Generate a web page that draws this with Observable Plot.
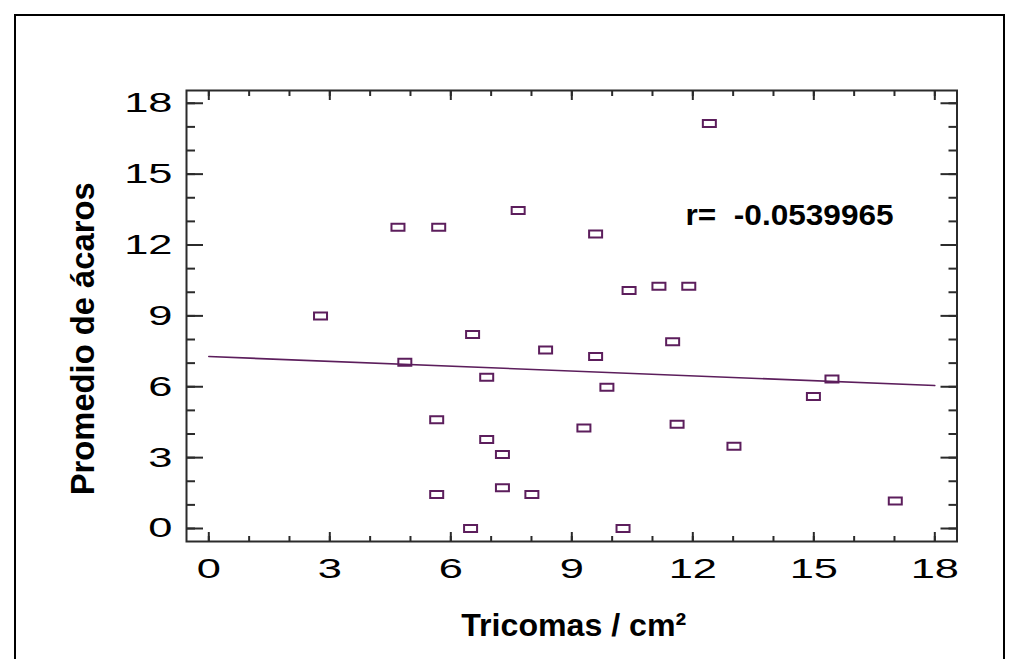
<!DOCTYPE html>
<html><head><meta charset="utf-8">
<script src="https://cdn.jsdelivr.net/npm/d3@7"></script>
<script src="https://cdn.jsdelivr.net/npm/@observablehq/plot@0.6"></script>
<style>
html,body{margin:0;padding:0;background:#fff;}
#wrap{position:relative;width:1019px;height:659px;overflow:hidden;background:#fff;}
#chart{position:absolute;left:0;top:0;}
#border{position:absolute;left:14px;top:14px;width:991px;height:720px;border:2px solid #000;box-sizing:border-box;pointer-events:none;}
</style></head><body>
<div id="wrap"><div id="chart"></div><div id="border"></div></div>
<script>
// Data
const tricomas = [2.77, 4.69, 4.86, 5.70, 5.65, 5.65, 6.49, 6.54, 6.89, 6.89, 7.28, 7.28, 7.67, 8.01, 8.35, 9.30, 9.59, 9.59, 9.87, 10.27, 10.42, 11.16, 11.50, 11.61, 11.90, 12.41, 13.02, 14.99, 15.45, 17.02];
const acaros   = [9.00, 12.75, 7.04, 12.75, 4.60, 1.44, 0.00, 8.21, 6.40, 3.77, 3.13, 1.72, 13.46, 1.44, 7.56, 4.25, 12.47, 7.28, 5.98, 0.00, 10.07, 10.25, 7.91, 4.41, 10.25, 17.14, 3.48, 5.59, 6.33, 1.16];
const fitX = [0, 18];
const fitY = [7.28, 6.05];
const xTicks = [0, 3, 6, 9, 12, 15, 18];
const yTicks = [0, 3, 6, 9, 12, 15, 18];
const xMinor = d3.range(0, 19);
const yMinor = d3.range(0, 19);
const xDomain = [-0.553, 18.55];
const yDomain = [-0.55, 18.54];
const rText = "r=  -0.0539965";
const rPos = {x: 11.82, y: 13.25};
const xTitle = "Tricomas / cm²";
const yTitle = "Promedio de ácaros";
const yTitlePos = 8.03;

const points = tricomas.map((x, i) => ({x, y: acaros[i]}));
const fit = fitX.map((x, i) => ({x, y: fitY[i]}));
const purple = "#5c1e5c";
const axisColor = "#2b2b2b";

const rectSymbol = {
  draw(ctx) {
    ctx.moveTo(-6.5, -3.5); ctx.lineTo(6.5, -3.5); ctx.lineTo(6.5, 3.5); ctx.lineTo(-6.5, 3.5); ctx.closePath();
  }
};

const tickOpts = {fill: "none", label: null, stroke: axisColor, strokeWidth: 2};

const chart = Plot.plot({
  width: 1019,
  height: 659,
  marginLeft: 186,
  marginRight: 62.5,
  marginTop: 90,
  marginBottom: 118,
  style: {fontFamily: "'Liberation Sans', Arial, sans-serif", fontSize: "28px", color: "#000", background: "transparent"},
  x: {domain: xDomain},
  y: {domain: yDomain},
  marks: [
    Plot.frame({stroke: axisColor, strokeWidth: 2}),
    // inward ticks
    Plot.axisX(xTicks, {...tickOpts, anchor: "bottom", tickSize: 9, dy: -9}),
    Plot.axisX(xMinor, {...tickOpts, anchor: "bottom", tickSize: 5, dy: -5}),
    Plot.axisX(xTicks, {...tickOpts, anchor: "top", tickSize: 9, dy: 9}),
    Plot.axisX(xMinor, {...tickOpts, anchor: "top", tickSize: 5, dy: 5}),
    Plot.axisY(yTicks, {...tickOpts, anchor: "left", tickSize: 17, dx: 17}),
    Plot.axisY(yMinor, {...tickOpts, anchor: "left", tickSize: 9, dx: 9}),
    Plot.axisY(yTicks, {...tickOpts, anchor: "right", tickSize: 17, dx: -17}),
    Plot.axisY(yMinor, {...tickOpts, anchor: "right", tickSize: 9, dx: -9}),
    // tick labels
    Plot.axisX(xTicks, {anchor: "bottom", tickSize: 0, tickPadding: 17, label: null, fill: "#000", fontSize: 28}),
    Plot.axisY(yTicks, {anchor: "left", tickSize: 0, tickPadding: 14, label: null, fill: "#000", fontSize: 28}),
    // regression line
    Plot.line(fit, {x: "x", y: "y", stroke: purple, strokeWidth: 1.6}),
    // points
    Plot.dot(points, {x: "x", y: "y", symbol: rectSymbol, stroke: purple, strokeWidth: 2, fill: "none"}),
    // r annotation
    Plot.text([rText], {x: () => rPos.x, y: () => rPos.y, text: d => d, textAnchor: "start", lineAnchor: "middle", fontWeight: "bold", fontSize: 29, fill: "#000"}),
    // axis titles
    Plot.text([xTitle], {text: d => d, frameAnchor: "bottom", textAnchor: "middle", lineAnchor: "bottom", dy: 94.7, dx: 2, fontWeight: "bold", fontSize: 32, fill: "#000"}),
    Plot.text([yTitle], {text: d => d, y: () => yTitlePos, frameAnchor: "left", textAnchor: "middle", lineAnchor: "bottom", rotate: -90, dx: -93, fontWeight: "bold", fontSize: 34, fill: "#000"})
  ]
});

document.getElementById("chart").appendChild(chart);

// horizontal stretch of text to match the reference widths
const targets = new Map([[rText, 208], [xTitle, 225], [yTitle, 313]]);
d3.select(chart).selectAll("text").each(function() {
  const t = this.textContent;
  if (t === rText) this.style.whiteSpace = "pre";
  const w = this.getComputedTextLength();
  let target = targets.get(t);
  if (target === undefined) target = w * 1.55;
  this.setAttribute("textLength", target);
  this.setAttribute("lengthAdjust", "spacingAndGlyphs");
});
</script>
</body></html>
